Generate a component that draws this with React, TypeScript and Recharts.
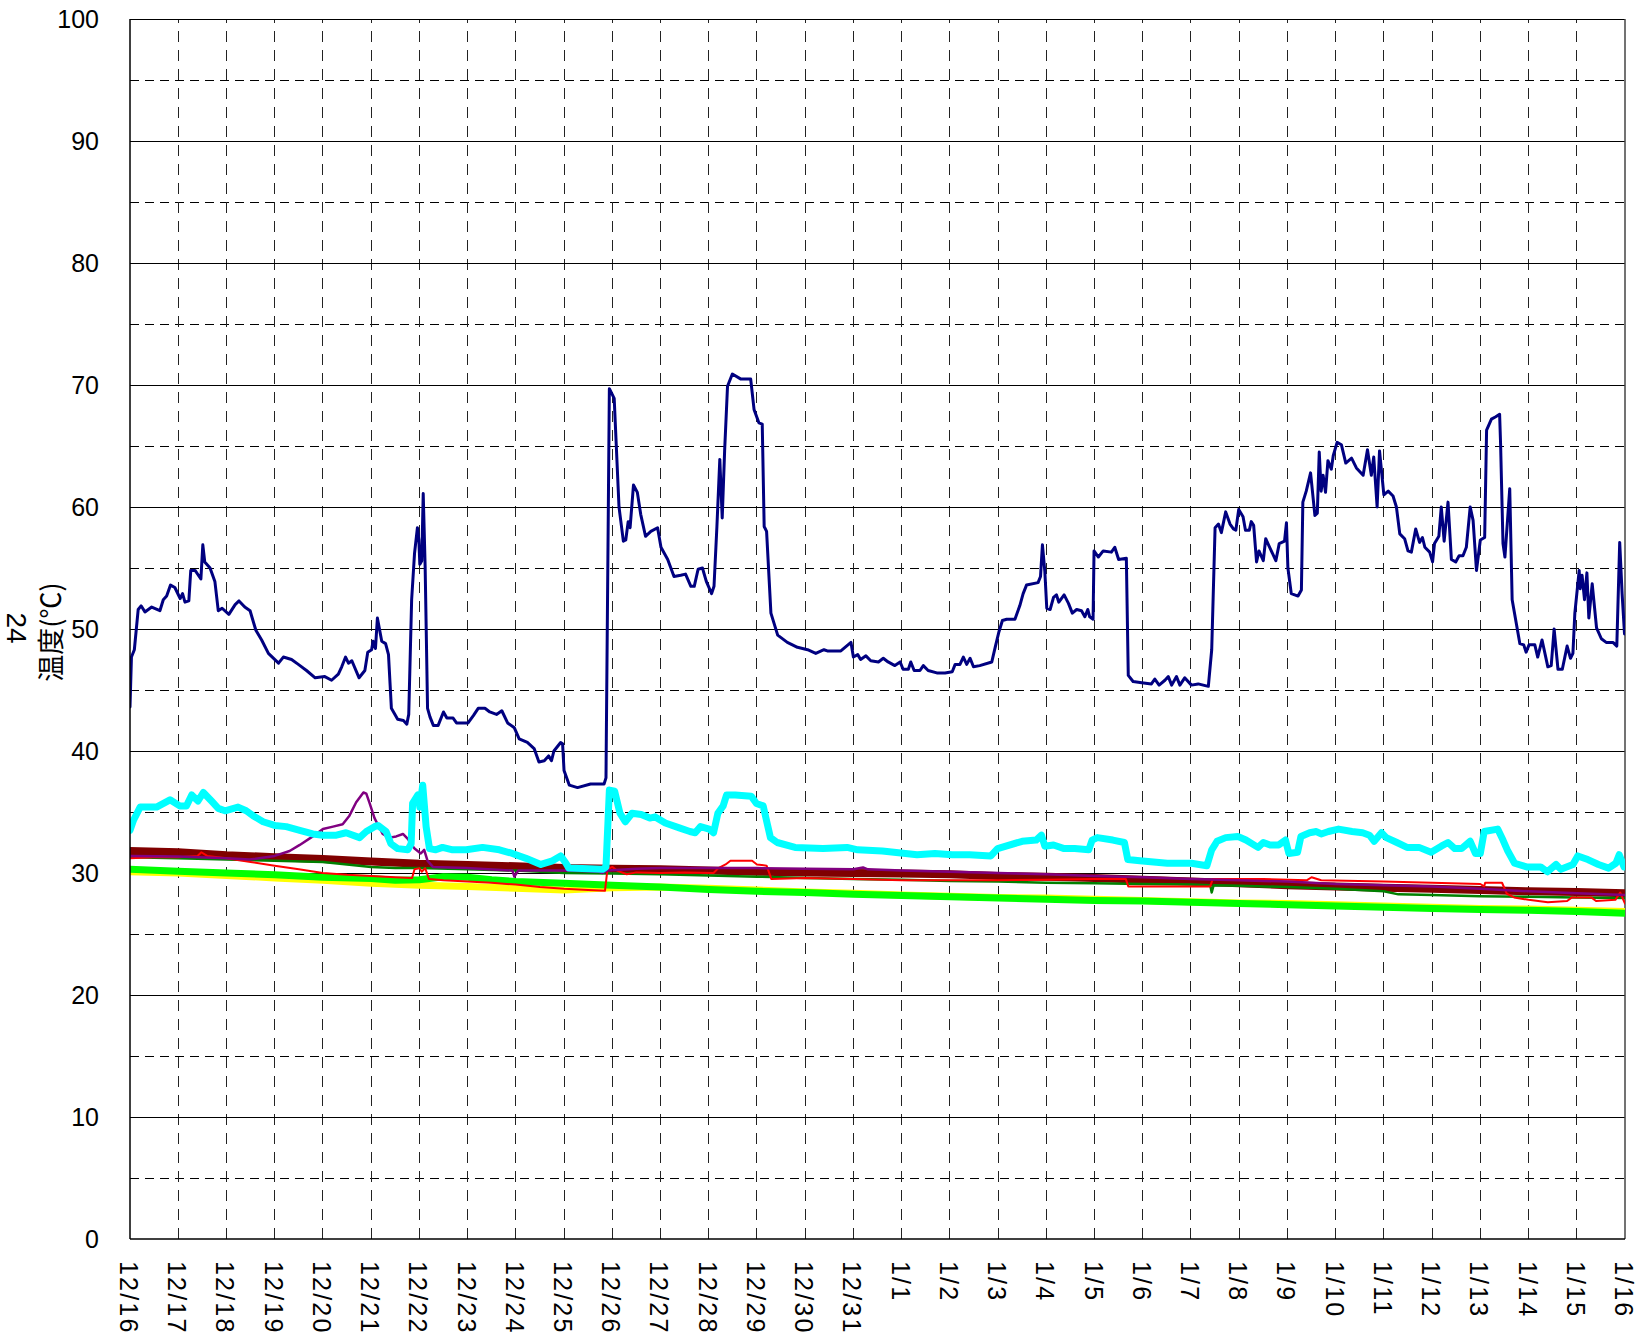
import React from "react";
import { LineChart, Line, XAxis, YAxis, ReferenceLine } from "recharts";

// x axis: one slot per day, 12/16 .. 1/16
const dayLabels = [
  "12/16", "12/17", "12/18", "12/19", "12/20", "12/21", "12/22", "12/23",
  "12/24", "12/25", "12/26", "12/27", "12/28", "12/29", "12/30", "12/31",
  "1/1", "1/2", "1/3", "1/4", "1/5", "1/6", "1/7", "1/8",
  "1/9", "1/10", "1/11", "1/12", "1/13", "1/14", "1/15", "1/16",
];
const dayTicks = dayLabels.map((_, i) => i);
const yMajor = [0, 10, 20, 30, 40, 50, 60, 70, 80, 90, 100];
const yMinor = [5, 15, 25, 35, 45, 55, 65, 75, 85, 95];

// [day offset, temperature]
const navyPts: [number, number][] = [
  [0, 43.6], [0.03, 47.7], [0.09, 48.3], [0.17, 51.6], [0.23, 51.9], [0.31, 51.4], [0.45, 51.8], [0.62, 51.5],
  [0.69, 52.4], [0.76, 52.7], [0.84, 53.6], [0.93, 53.4], [1.04, 52.5], [1.09, 52.9], [1.14, 52.2], [1.22, 52.3],
  [1.26, 54.8], [1.35, 54.8], [1.47, 54.1], [1.51, 56.9], [1.55, 55.5], [1.66, 55.0], [1.76, 53.9], [1.83, 51.5],
  [1.91, 51.7], [2.05, 51.2], [2.18, 52.0], [2.26, 52.3], [2.38, 51.8], [2.49, 51.5], [2.61, 49.9], [2.73, 49.1],
  [2.87, 48.0], [3.08, 47.2], [3.18, 47.7], [3.35, 47.5], [3.49, 47.1], [3.66, 46.6], [3.84, 46.0], [4.04, 46.1],
  [4.18, 45.8], [4.32, 46.3], [4.39, 46.9], [4.47, 47.7], [4.53, 47.2], [4.6, 47.4], [4.75, 46.0], [4.87, 46.6],
  [4.93, 48.1], [5.01, 48.3], [5.04, 49.0], [5.09, 48.4], [5.13, 50.9], [5.22, 49.0], [5.3, 48.8], [5.36, 47.9],
  [5.42, 43.5], [5.55, 42.6], [5.67, 42.5], [5.74, 42.2], [5.78, 43.0], [5.84, 52.4], [5.9, 56.2], [5.96, 58.3],
  [5.99, 57.3], [6.01, 55.3], [6.05, 55.6], [6.08, 61.1], [6.12, 55.1], [6.17, 43.5], [6.22, 42.8], [6.29, 42.1],
  [6.39, 42.1], [6.5, 43.2], [6.57, 42.7], [6.7, 42.7], [6.77, 42.3], [6.91, 42.3], [7.01, 42.3], [7.12, 42.9],
  [7.22, 43.5], [7.36, 43.5], [7.46, 43.2], [7.6, 43.0], [7.71, 43.3], [7.83, 42.3], [7.97, 41.9], [8.07, 41.0],
  [8.24, 40.7], [8.38, 40.2], [8.48, 39.1], [8.59, 39.2], [8.68, 39.6], [8.74, 39.2], [8.79, 40.0], [8.93, 40.7],
  [8.97, 40.6], [9.0, 38.4], [9.11, 37.2], [9.28, 37.0], [9.55, 37.3], [9.83, 37.3], [9.87, 37.8], [9.94, 69.7],
  [10.04, 68.9], [10.14, 60.0], [10.23, 57.2], [10.28, 57.3], [10.33, 58.8], [10.37, 58.3], [10.44, 61.8], [10.52, 61.2],
  [10.59, 59.4], [10.69, 57.6], [10.8, 58.0], [10.94, 58.3], [11.01, 56.7], [11.15, 55.7], [11.28, 54.3], [11.42, 54.4],
  [11.52, 54.5], [11.63, 53.5], [11.7, 53.5], [11.78, 54.9], [11.87, 55.0], [11.95, 53.9], [12.06, 52.9], [12.11, 53.5],
  [12.17, 58.4], [12.23, 63.9], [12.28, 59.1], [12.33, 64.6], [12.39, 69.9], [12.49, 70.9], [12.66, 70.5], [12.87, 70.5],
  [12.94, 68.0], [13.04, 66.9], [13.11, 66.8], [13.15, 58.4], [13.2, 58.0], [13.29, 51.3], [13.43, 49.5], [13.63, 48.9],
  [13.84, 48.5], [14.05, 48.3], [14.22, 48.0], [14.39, 48.3], [14.46, 48.2], [14.74, 48.2], [14.95, 48.9], [15.0, 47.7],
  [15.09, 47.9], [15.15, 47.5], [15.26, 47.8], [15.36, 47.4], [15.52, 47.3], [15.62, 47.6], [15.72, 47.3], [15.86, 47.0],
  [15.97, 47.3], [16.03, 46.7], [16.14, 46.7], [16.19, 47.3], [16.26, 46.6], [16.38, 46.6], [16.45, 47.0], [16.55, 46.6],
  [16.73, 46.4], [16.9, 46.4], [17.05, 46.5], [17.11, 47.1], [17.21, 47.1], [17.28, 47.7], [17.35, 47.1], [17.42, 47.6],
  [17.49, 46.9], [17.62, 47.0], [17.87, 47.3], [17.94, 48.5], [18.02, 49.8], [18.09, 50.7], [18.18, 50.8], [18.35, 50.8],
  [18.45, 51.9], [18.52, 52.9], [18.59, 53.6], [18.83, 53.8], [18.88, 54.3], [18.92, 56.9], [18.97, 54.7], [19.01, 51.7],
  [19.08, 51.6], [19.15, 52.6], [19.21, 52.8], [19.26, 52.2], [19.37, 52.8], [19.46, 52.1], [19.54, 51.3], [19.63, 51.6],
  [19.73, 51.5], [19.8, 51.0], [19.86, 51.6], [19.9, 51.0], [19.97, 50.8], [19.99, 56.4], [20.08, 55.9], [20.18, 56.4],
  [20.35, 56.3], [20.42, 56.7], [20.5, 55.7], [20.66, 55.8], [20.7, 46.2], [20.8, 45.7], [20.98, 45.6], [21.18, 45.5],
  [21.25, 45.9], [21.34, 45.4], [21.46, 45.8], [21.53, 46.1], [21.6, 45.4], [21.7, 46.1], [21.77, 45.4], [21.87, 46.0],
  [22.01, 45.4], [22.15, 45.5], [22.36, 45.3], [22.43, 48.3], [22.5, 58.3], [22.57, 58.6], [22.63, 57.9], [22.72, 59.6],
  [22.81, 58.6], [22.88, 58.2], [22.93, 58.1], [22.99, 59.8], [23.08, 59.2], [23.13, 58.1], [23.21, 58.1], [23.25, 58.8],
  [23.3, 58.5], [23.36, 55.5], [23.41, 56.4], [23.5, 55.6], [23.55, 57.4], [23.62, 56.8], [23.76, 55.6], [23.83, 57.0],
  [23.94, 57.2], [23.98, 58.7], [24.01, 55.0], [24.08, 52.9], [24.22, 52.7], [24.29, 53.2], [24.32, 60.4], [24.39, 61.3],
  [24.48, 62.8], [24.57, 59.3], [24.62, 59.5], [24.66, 64.5], [24.7, 61.3], [24.74, 62.6], [24.79, 61.2], [24.84, 63.8],
  [24.91, 63.1], [24.95, 64.2], [25.03, 65.3], [25.12, 65.1], [25.21, 63.6], [25.33, 64.0], [25.43, 63.2], [25.57, 62.6],
  [25.66, 64.7], [25.74, 62.6], [25.79, 64.1], [25.86, 60.0], [25.91, 64.6], [26.0, 61.0], [26.09, 61.3], [26.19, 60.9],
  [26.26, 60.0], [26.33, 57.8], [26.43, 57.4], [26.5, 56.4], [26.57, 56.3], [26.66, 58.2], [26.74, 57.1], [26.8, 57.5],
  [26.85, 56.7], [26.95, 56.3], [27.01, 55.5], [27.05, 57.0], [27.14, 57.6], [27.19, 60.0], [27.25, 57.2], [27.33, 60.4],
  [27.4, 55.7], [27.49, 55.5], [27.56, 56.0], [27.64, 56.0], [27.71, 56.7], [27.79, 60.0], [27.85, 58.9], [27.92, 54.8],
  [28.0, 57.3], [28.09, 57.5], [28.13, 66.3], [28.23, 67.2], [28.32, 67.4], [28.4, 67.6], [28.42, 65.2], [28.47, 57.0],
  [28.51, 55.9], [28.61, 61.5], [28.66, 52.4], [28.82, 48.8], [28.9, 48.7], [28.95, 48.1], [29.01, 48.7], [29.13, 48.7],
  [29.19, 47.7], [29.28, 49.1], [29.4, 46.9], [29.47, 47.0], [29.53, 50.0], [29.61, 46.7], [29.7, 46.7], [29.8, 48.6],
  [29.87, 47.6], [29.92, 48.0], [29.96, 51.3], [30.05, 54.8], [30.07, 53.3], [30.11, 54.4], [30.16, 52.4], [30.21, 54.6],
  [30.25, 50.9], [30.32, 53.7], [30.41, 50.1], [30.51, 49.2], [30.61, 48.9], [30.75, 48.9], [30.83, 48.6], [30.89, 57.1],
  [30.94, 52.9], [30.99, 49.6],
];

const cyanPts: [number, number][] = [
  [0, 33.5], [0.07, 34.3], [0.21, 35.4], [0.55, 35.4], [0.83, 36.0], [1.03, 35.5], [1.17, 35.5], [1.28, 36.4],
  [1.41, 35.9], [1.52, 36.6], [1.69, 35.9], [1.83, 35.3], [1.97, 35.1], [2.24, 35.4], [2.41, 35.1], [2.55, 34.7],
  [2.76, 34.2], [3.0, 33.9], [3.24, 33.8], [3.52, 33.5], [3.79, 33.2], [4.0, 33.1], [4.28, 33.1], [4.48, 33.3],
  [4.76, 32.9], [4.9, 33.4], [5.07, 33.8], [5.14, 33.9], [5.31, 33.4], [5.41, 32.4], [5.55, 32.0], [5.76, 31.9],
  [5.83, 32.4], [5.86, 35.7], [5.97, 36.4], [6.01, 35.4], [6.07, 37.2], [6.14, 33.8], [6.21, 32.0], [6.34, 31.9],
  [6.48, 32.1], [6.69, 31.9], [6.97, 31.9], [7.31, 32.1], [7.66, 31.9], [7.93, 31.6], [8.21, 31.2], [8.52, 30.7],
  [8.76, 31.0], [8.93, 31.4], [9.04, 30.8], [9.1, 30.4], [9.8, 30.3], [9.87, 30.5], [9.94, 36.8], [10.05, 36.7],
  [10.16, 34.9], [10.27, 34.2], [10.41, 34.9], [10.6, 34.8], [10.78, 34.5], [10.89, 34.6], [11.1, 34.1], [11.39, 33.7],
  [11.61, 33.4], [11.72, 33.3], [11.83, 33.8], [12.01, 33.6], [12.1, 33.3], [12.19, 34.9], [12.3, 35.5], [12.37, 36.4],
  [12.55, 36.4], [12.88, 36.3], [12.99, 35.7], [13.13, 35.5], [13.21, 34.1], [13.28, 32.9], [13.42, 32.5], [13.79, 32.1],
  [14.37, 32.0], [14.87, 32.1], [15.09, 31.9], [15.6, 31.8], [16.32, 31.5], [16.69, 31.6], [17.05, 31.5], [17.41, 31.5],
  [17.85, 31.4], [17.99, 32.0], [18.5, 32.6], [18.79, 32.7], [18.9, 33.1], [18.97, 32.2], [19.15, 32.3], [19.37, 32.0],
  [19.59, 32.0], [19.88, 31.9], [19.95, 32.7], [20.06, 32.9], [20.38, 32.7], [20.62, 32.5], [20.69, 31.1], [20.94, 31.0],
  [21.51, 30.8], [22.01, 30.8], [22.33, 30.6], [22.43, 31.9], [22.54, 32.6], [22.72, 32.9], [22.97, 33.0], [23.14, 32.7],
  [23.39, 32.1], [23.5, 32.5], [23.64, 32.3], [23.82, 32.3], [23.96, 32.7], [24.03, 31.6], [24.21, 31.7], [24.28, 33.0],
  [24.46, 33.3], [24.6, 33.4], [24.7, 33.2], [24.85, 33.4], [25.06, 33.6], [25.34, 33.4], [25.56, 33.3], [25.7, 33.1],
  [25.8, 32.6], [25.95, 33.3], [26.05, 32.9], [26.27, 32.5], [26.48, 32.1], [26.73, 32.1], [26.98, 31.7], [27.19, 32.2],
  [27.33, 32.5], [27.47, 32.0], [27.61, 32.0], [27.79, 32.6], [27.9, 31.6], [28.0, 31.6], [28.08, 33.4], [28.36, 33.6],
  [28.47, 32.7], [28.57, 31.8], [28.71, 30.8], [28.96, 30.5], [29.25, 30.5], [29.39, 30.1], [29.57, 30.7], [29.67, 30.3],
  [29.92, 30.7], [30.02, 31.4], [30.23, 31.1], [30.45, 30.7], [30.66, 30.4], [30.81, 30.8], [30.88, 31.5], [30.98, 30.5],
];

const maroonPts: [number, number][] = [
  [0, 31.8], [1, 31.7], [2, 31.45], [3, 31.3], [4, 31.15], [5, 30.95], [6, 30.75], [7, 30.65],
  [8, 30.55], [9, 30.4], [10, 30.35], [11, 30.3], [12, 30.2], [13, 30.1], [14, 30.05], [15, 30.0],
  [16, 29.95], [17, 29.9], [18, 29.75], [19, 29.7], [20, 29.6], [21, 29.45], [22, 29.3], [23, 29.15],
  [24, 29.0], [25, 28.9], [26, 28.8], [27, 28.7], [28, 28.6], [29, 28.5], [30, 28.45], [31, 28.35],
];

const yellowPts: [number, number][] = [
  [0, 30.1], [1, 30.0], [2, 29.8], [3, 29.6], [4, 29.4], [5, 29.15], [6, 29.0], [7, 28.9],
  [8, 28.75], [9, 28.6], [10, 28.8], [11, 28.85], [12, 28.75], [13, 28.6], [14, 28.45], [15, 28.35],
  [16, 28.2], [17, 28.1], [18, 28.0], [19, 27.95], [20, 27.85], [21, 27.75], [22, 27.65], [23, 27.55],
  [24, 27.5], [25, 27.4], [26, 27.3], [27, 27.2], [28, 27.1], [29, 27.05], [30, 26.95], [31, 26.85],
];

const limePts: [number, number][] = [
  [0, 30.3], [1, 30.15], [2, 30.0], [3, 29.85], [4, 29.65], [5, 29.55], [5.5, 29.4], [6, 29.45],
  [6.5, 29.7], [7, 29.65], [7.5, 29.45], [8, 29.3], [9, 29.15], [10, 29.0], [11, 28.85], [12, 28.65],
  [13, 28.5], [14, 28.4], [15, 28.25], [16, 28.15], [17, 28.05], [18, 27.95], [19, 27.85], [20, 27.75],
  [21, 27.7], [22, 27.6], [23, 27.5], [24, 27.4], [25, 27.3], [26, 27.2], [27, 27.1], [28, 27.0],
  [29, 26.95], [30, 26.85], [31, 26.7],
];

const redPts: [number, number][] = [
  [0, 31.2], [0.5, 31.3], [1, 31.3], [1.4, 31.4], [1.48, 31.7], [1.6, 31.4], [2, 31.2], [2.5, 30.9],
  [3, 30.6], [3.5, 30.3], [4, 30.0], [4.5, 29.85], [5, 29.75], [5.5, 29.65], [5.85, 29.6], [5.9, 30.3],
  [6.0, 30.4], [6.05, 30.1], [6.12, 30.4], [6.2, 29.5], [6.5, 29.4], [7, 29.3], [7.5, 29.2], [8, 29.05],
  [8.5, 28.85], [9, 28.7], [9.5, 28.6], [9.85, 28.55], [9.9, 30.3], [10.0, 30.5], [10.1, 30.2], [10.3, 29.9],
  [10.5, 30.05], [11, 30.0], [11.5, 30.05], [12.1, 30.0], [12.2, 30.4], [12.35, 30.7], [12.45, 31.0], [12.9, 31.0],
  [13.0, 30.7], [13.2, 30.6], [13.3, 29.5], [14, 29.6], [15, 29.5], [16, 29.4], [17, 29.4], [18, 29.4],
  [19, 29.45], [20, 29.5], [20.65, 29.5], [20.7, 28.9], [22.4, 28.9], [22.45, 29.5], [23.5, 29.5], [24.4, 29.4],
  [24.5, 29.65], [24.7, 29.4], [26, 29.3], [27, 29.2], [28, 29.1], [28.08, 28.9], [28.1, 29.2], [28.45, 29.2],
  [28.55, 28.3], [28.7, 28.0], [29, 27.8], [29.4, 27.6], [29.8, 27.7], [29.9, 28.0], [30.3, 28.0], [30.4, 27.7],
  [30.8, 27.8], [30.9, 28.4], [31, 27.5],
];

const greenPts: [number, number][] = [
  [0, 31.3], [1, 31.2], [2, 31.1], [3, 31.0], [4, 30.9], [5, 30.5], [5.5, 30.4], [6, 30.4],
  [7, 30.3], [8, 30.2], [9, 30.0], [10, 29.95], [11, 29.9], [12, 29.8], [13, 29.7], [14, 29.6],
  [15, 29.5], [16, 29.45], [17, 29.35], [18, 29.3], [19, 29.2], [20, 29.15], [21, 29.1], [22, 29.05],
  [22.4, 29.0], [22.43, 28.4], [22.47, 29.0], [23, 28.95], [24, 28.85], [25, 28.7], [26, 28.5], [26.3, 28.25],
  [27, 28.2], [28, 28.1], [29, 28.05], [30, 28.0], [31, 27.95],
];

const purplePts: [number, number][] = [
  [0, 31.4], [1, 31.35], [2, 31.2], [2.48, 31.1], [3.0, 31.4], [3.31, 31.8], [3.52, 32.3], [3.79, 33.0],
  [4.0, 33.6], [4.21, 33.8], [4.41, 34.0], [4.55, 34.7], [4.69, 35.8], [4.84, 36.6], [4.9, 36.5], [4.97, 35.7],
  [5.07, 34.5], [5.24, 33.2], [5.38, 32.9], [5.52, 33.0], [5.66, 33.2], [5.76, 32.8], [5.9, 32.0], [6.03, 31.6],
  [6.1, 31.9], [6.17, 31.0], [6.28, 30.5], [6.97, 30.4], [7.93, 30.2], [7.97, 29.7], [8.05, 30.2], [9.03, 30.2],
  [9.72, 30.1], [9.8, 30.0], [9.9, 30.2], [10.5, 30.35], [11, 30.4], [12, 30.4], [13, 30.4], [14, 30.35],
  [15, 30.3], [15.2, 30.45], [15.3, 30.3], [16, 30.2], [17, 30.1], [18, 30.0], [19, 29.9], [20, 29.75],
  [21, 29.65], [22, 29.5], [23, 29.4], [24, 29.3], [25, 29.1], [26, 29.0], [27, 28.9], [28, 28.7],
  [29, 28.5], [30, 28.35], [31, 28.2],
];

const series = [
  { name: "yellow", pts: yellowPts, color: "#FFFF00", width: 7 },
  { name: "lime", pts: limePts, color: "#00FF00", width: 7 },
  { name: "maroon", pts: maroonPts, color: "#800000", width: 8 },
  { name: "green", pts: greenPts, color: "#008000", width: 2.5 },
  { name: "red", pts: redPts, color: "#FF0000", width: 2 },
  { name: "purple", pts: purplePts, color: "#800080", width: 2.5 },
  { name: "cyan", pts: cyanPts, color: "#00FFFF", width: 7 },
  { name: "navy", pts: navyPts, color: "#000080", width: 3 },
];

const NUM_FONT = "'Liberation Sans', Arial, sans-serif";

function DayTick(props: any) {
  const { x, y, payload } = props;
  return (
    <text
      transform={`translate(${x - 1},${y + 22}) rotate(90)`}
      textAnchor="start"
      dominantBaseline="central"
      fontFamily={NUM_FONT}
      fontSize={25}
      letterSpacing={2.2}
      fill="#000"
    >
      {dayLabels[payload.value]}
    </text>
  );
}

function TempTick(props: any) {
  const { x, y, payload } = props;
  return (
    <text x={x} y={y} dy="0.36em" textAnchor="end" fontFamily={NUM_FONT} fontSize={25} fill="#000">
      {payload.value}
    </text>
  );
}

export default function App() {
  return (
    <div style={{ position: "absolute", left: 0, top: 0, width: 1636, height: 1337, background: "#fff" }}>
      <LineChart width={1636} height={1337} margin={{ top: 19, right: 11, left: 60, bottom: 8 }}>
        <XAxis
          dataKey="d"
          type="number"
          domain={[0, 31]}
          ticks={dayTicks}
          interval={0}
          allowDataOverflow
          height={90}
          tickLine={false}
          tickSize={0}
          tickMargin={0}
          axisLine={{ stroke: "#000", strokeWidth: 1.5 }}
          tick={<DayTick />}
        />
        <YAxis
          type="number"
          domain={[0, 100]}
          ticks={yMajor}
          interval={0}
          allowDataOverflow
          width={70}
          tickLine={false}
          tickSize={0}
          tickMargin={31}
          axisLine={{ stroke: "#000", strokeWidth: 1.5 }}
          tick={<TempTick />}
        />
        {yMinor.map((v) => (
          <ReferenceLine key={`ym${v}`} y={v} stroke="#000" strokeWidth={1} strokeDasharray="9 6" shapeRendering="crispEdges" />
        ))}
        {dayTicks.slice(1, -1).map((d) => (
          <ReferenceLine key={`xd${d}`} x={d} stroke="#222" strokeWidth={1} strokeDasharray="11 8" shapeRendering="crispEdges" />
        ))}
        {yMajor.slice(1).map((v) => (
          <ReferenceLine key={`yM${v}`} y={v} stroke="#000" strokeWidth={1} shapeRendering="crispEdges" />
        ))}
        <ReferenceLine x={31} stroke="#444" strokeWidth={1.5} />
        {series.map((s) => (
          <Line
            key={s.name}
            data={s.pts.map(([d, v]) => ({ d, v }))}
            dataKey="v"
            type="linear"
            stroke={s.color}
            strokeWidth={s.width}
            strokeLinejoin="round"
            strokeLinecap="round"
            dot={false}
            activeDot={false}
            isAnimationActive={false}
          />
        ))}
      </LineChart>
      <div
        style={{
          position: "absolute",
          left: 49,
          top: 632,
          transform: "translate(-50%, -50%) rotate(-90deg)",
          whiteSpace: "nowrap",
          fontFamily: "'Noto Sans CJK JP', sans-serif",
          fontSize: 27,
          lineHeight: 1,
          color: "#000",
        }}
      >
        温度(℃)
      </div>
      <div
        style={{
          position: "absolute",
          left: 16,
          top: 628,
          transform: "translate(-50%, -50%) rotate(90deg)",
          whiteSpace: "nowrap",
          fontFamily: NUM_FONT,
          fontSize: 28,
          lineHeight: 1,
          color: "#000",
        }}
      >
        24
      </div>
    </div>
  );
}
